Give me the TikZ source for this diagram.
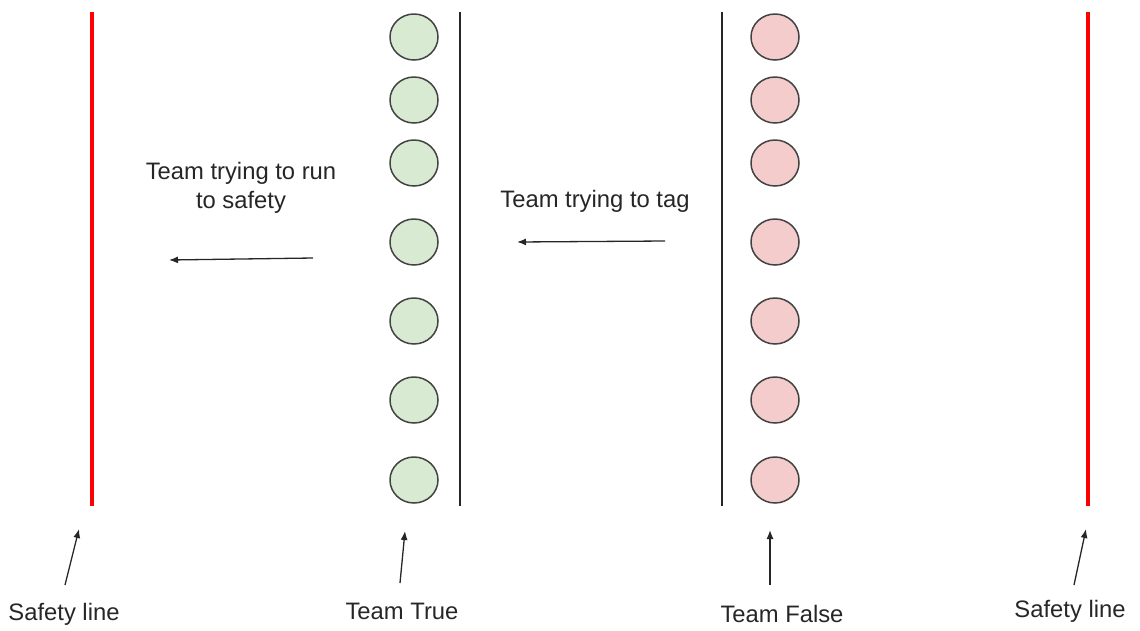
\documentclass[tikz,border=0pt]{standalone}
\usepackage{fontspec}
\setmainfont{Liberation Sans}
\usetikzlibrary{arrows.meta,shapes.geometric}
\definecolor{safered}{HTML}{FF0000}
\definecolor{truegreen}{HTML}{D9EAD3}
\definecolor{falsepink}{HTML}{F4CCCC}
\definecolor{rim}{HTML}{434343}
\tikzset{
  player/.style={ellipse, draw=rim, line width=1.5pt, minimum width=48pt, minimum height=46pt, inner sep=0pt},
  trueplayer/.style={player, fill=truegreen},
  falseplayer/.style={player, fill=falsepink},
  safety/.style={draw=safered, line width=3.5pt},
  teamline/.style={draw=black!85, line width=1.3pt},
  pointer/.style={draw=black!85, line width=1.3pt, -{Latex[length=9pt,width=7pt]}},
  lbl/.style={font=\fontsize{23.8}{29.5}\selectfont, text=black!85, inner sep=0pt, align=center}
}
\begin{document}
\begin{tikzpicture}[x=1pt,y=-1pt]
\useasboundingbox (0,0) rectangle (1140,630);

% boundary lines
\coordinate (lsTop) at (92,12);   \coordinate (lsBot) at (92,506);
\coordinate (rsTop) at (1088,12); \coordinate (rsBot) at (1088,506);
\coordinate (tlTop) at (460,12);  \coordinate (tlBot) at (460,506);
\coordinate (flTop) at (722,12);  \coordinate (flBot) at (722,506);
\draw[safety] (lsTop) -- (lsBot);
\draw[safety] (rsTop) -- (rsBot);
\draw[teamline] (tlTop) -- (tlBot);
\draw[teamline] (flTop) -- (flBot);

% the two teams
\foreach \i/\y in {1/37,2/100,3/163,4/242,5/321,6/400,7/480}{
  \node[trueplayer]  (g\i) at (414,\y) {};
  \node[falseplayer] (p\i) at (775,\y) {};
}

% movement captions and arrows
\node[lbl] (runtxt) at (241,188) {Team trying to run\\to safety};
\coordinate (runA) at (313,258); \coordinate (runB) at (169,260);
\draw[pointer] (runA) -- (runB);

\node[lbl] (tagtxt) at (595,201) {Team trying to tag};
\coordinate (tagA) at (665,241); \coordinate (tagB) at (517,242);
\draw[pointer] (tagA) -- (tagB);

% bottom labels
\node[lbl] (lsl) at (64,614) {Safety line};
\node[lbl] (ttl) at (402,611) {Team True};
\node[lbl] (tfl) at (782,614) {Team False};
\node[lbl] (rsl) at (1070,611) {Safety line};

\coordinate (lsA) at (65,585);   \coordinate (lsB) at (79,529);
\coordinate (ttA) at (400,583);  \coordinate (ttB) at (405,531);
\coordinate (tfA) at (770,585);  \coordinate (tfB) at (770,530);
\coordinate (rsA) at (1074,585); \coordinate (rsB) at (1086,529);
\draw[pointer] (lsA) -- (lsB);
\draw[pointer] (ttA) -- (ttB);
\draw[pointer] (tfA) -- (tfB);
\draw[pointer] (rsA) -- (rsB);
\end{tikzpicture}
\end{document}
